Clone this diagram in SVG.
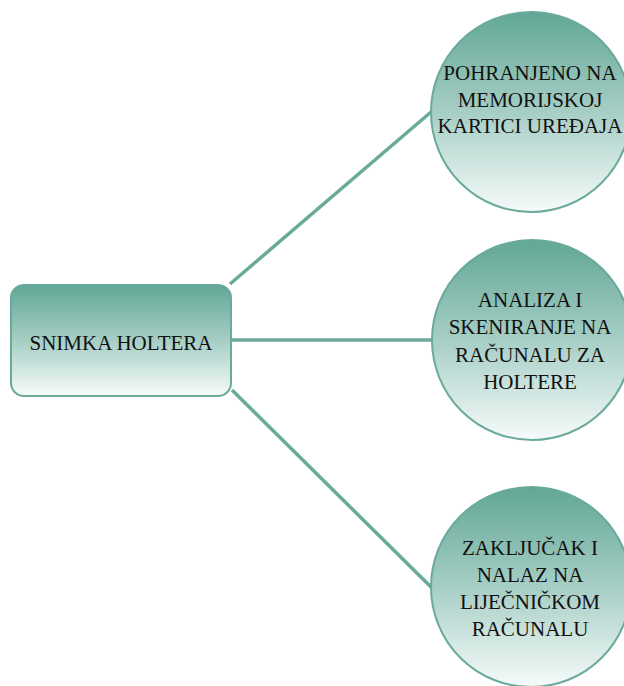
<svg xmlns="http://www.w3.org/2000/svg" width="624" height="686" viewBox="0 0 624 686">
<style>
.node{stroke:#6aaa9b;stroke-width:2}
.conn{stroke:#6aaa9b;stroke-width:3.5;fill:none}
</style>
<defs>
<linearGradient id="g" x1="0" y1="0" x2="0" y2="1">
<stop offset="0" stop-color="#62a796"/>
<stop offset="0.5" stop-color="#a6cec5"/>
<stop offset="1" stop-color="#f6fbfa"/>
</linearGradient>
</defs>
<rect width="624" height="686" fill="#fff"/>
<g id="connectors">
<line class="conn" x1="230" y1="284" x2="431" y2="112"/>
<line class="conn" x1="231" y1="340" x2="433" y2="340"/>
<line class="conn" x1="232" y1="390" x2="431" y2="587"/>
</g>
<g font-family="Liberation Serif, DejaVu Serif, serif" font-size="21" fill="#111" text-anchor="middle">
<g id="n0">
<rect class="node" x="11" y="285" width="220" height="111" rx="13" fill="url(#g)"/>
<text x="121" y="350">SNIMKA HOLTERA</text>
</g>
<g id="n1">
<circle class="node" cx="531" cy="112" r="100" fill="url(#g)"/>
<text x="530" y="80">POHRANJENO NA</text>
<text x="530" y="107">MEMORIJSKOJ</text>
<text x="530" y="133">KARTICI UREĐAJA</text>
</g>
<g id="n2">
<circle class="node" cx="532" cy="340" r="100" fill="url(#g)"/>
<text x="530" y="307">ANALIZA I</text>
<text x="530" y="334">SKENIRANJE NA</text>
<text x="530" y="362">RAČUNALU ZA</text>
<text x="530" y="389">HOLTERE</text>
</g>
<g id="n3">
<circle class="node" cx="531" cy="587" r="100" fill="url(#g)"/>
<text x="530" y="555">ZAKLJUČAK I</text>
<text x="530" y="582">NALAZ NA</text>
<text x="530" y="609">LIJEČNIČKOM</text>
<text x="530" y="636">RAČUNALU</text>
</g>
</g>
</svg>
